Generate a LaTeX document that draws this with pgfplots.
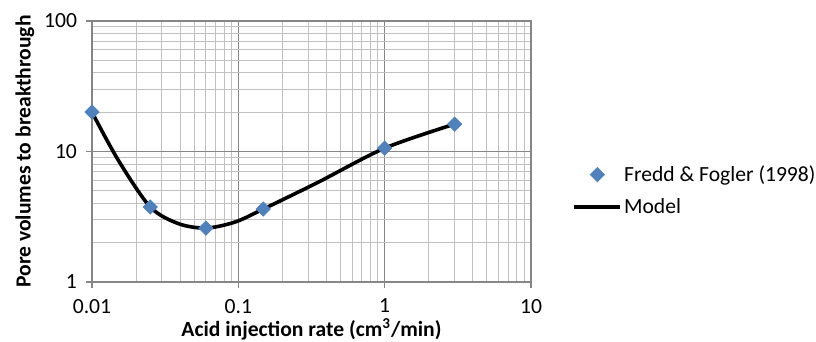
\documentclass[border=0pt]{standalone}
\usepackage{fontspec}
\setmainfont{Carlito}
\usepackage{pgfplots}
\pgfplotsset{compat=1.18}
\definecolor{ptblue}{HTML}{4F81BD}
\definecolor{majgrid}{HTML}{868686}
\definecolor{mingrid}{HTML}{C0C0C0}
\begin{document}
\begin{tikzpicture}
\begin{axis}[
  scale only axis,
  width=219.5pt, height=130.5pt,
  xmode=log, ymode=log,
  xmin=0.01, xmax=10, ymin=1, ymax=100,
  font=\fontsize{10.8}{13}\selectfont,
  xtick={0.01,0.1,1,10}, xticklabels={0.01,0.1,1,10},
  ytick={1,10,100}, yticklabels={1,10,100},
  minor xtick={0.02,0.03,0.04,0.05,0.06,0.07,0.08,0.09,0.2,0.3,0.4,0.5,0.6,0.7,0.8,0.9,2,3,4,5,6,7,8,9},
  minor ytick={2,3,4,5,6,7,8,9,20,30,40,50,60,70,80,90},
  grid=both,
  major grid style={majgrid, line width=0.6pt},
  minor grid style={mingrid, line width=0.5pt},
  axis line style={majgrid, line width=0.6pt},
  tick style={majgrid, line width=0.6pt},
  minor tick length=0pt,
  major tick length=3pt,
  tick align=outside,
  xtick pos=bottom, ytick pos=left,
  xticklabel style={yshift=-2pt},
  yticklabel style={xshift=-1pt},
  xlabel={\textbf{Acid injection rate (cm\textsuperscript{3}/min)}},
  ylabel={\textbf{Pore volumes to breakthrough}},
  xlabel style={yshift=4pt},
  ylabel style={yshift=-2pt},
  legend style={draw=none, fill=none, at={(1.08,0.35)}, anchor=west, row sep=5pt, font=\fontsize{10.8}{13}\selectfont},
  legend cell align=left,
  reverse legend,
  every axis legend/.append style={nodes={inner sep=1pt}},
]
\addplot[black, line width=1.8pt, smooth, no marks, legend image code/.code={\draw[black, line width=1.8pt] (0pt,0pt) -- (23pt,0pt);}] coordinates {
 (0.01,20) (0.0151,8.6) (0.025,3.76) (0.039,2.8) (0.06,2.59) (0.095,2.88) (0.148,3.62) (0.35,5.8) (1,10.6) (3,16.2)
};
\addlegendentry{Model}
\addplot[only marks, mark=square*, mark size=2.5pt, mark options={rotate=45}, color=ptblue, legend image code/.code={\draw[ptblue, fill=ptblue] plot[mark=square*, mark size=2.5pt, mark options={rotate=45}] coordinates {(11.5pt,0pt)};}] coordinates {
 (0.01,20.1) (0.025,3.76) (0.06,2.59) (0.148,3.62) (1,10.6) (3.01,16.2)
};
\addlegendentry{Fredd \& Fogler (1998)}
\end{axis}
\pgfresetboundingbox
\path (-46pt,-30pt) rectangle (362pt,141pt);
\end{tikzpicture}
\end{document}
